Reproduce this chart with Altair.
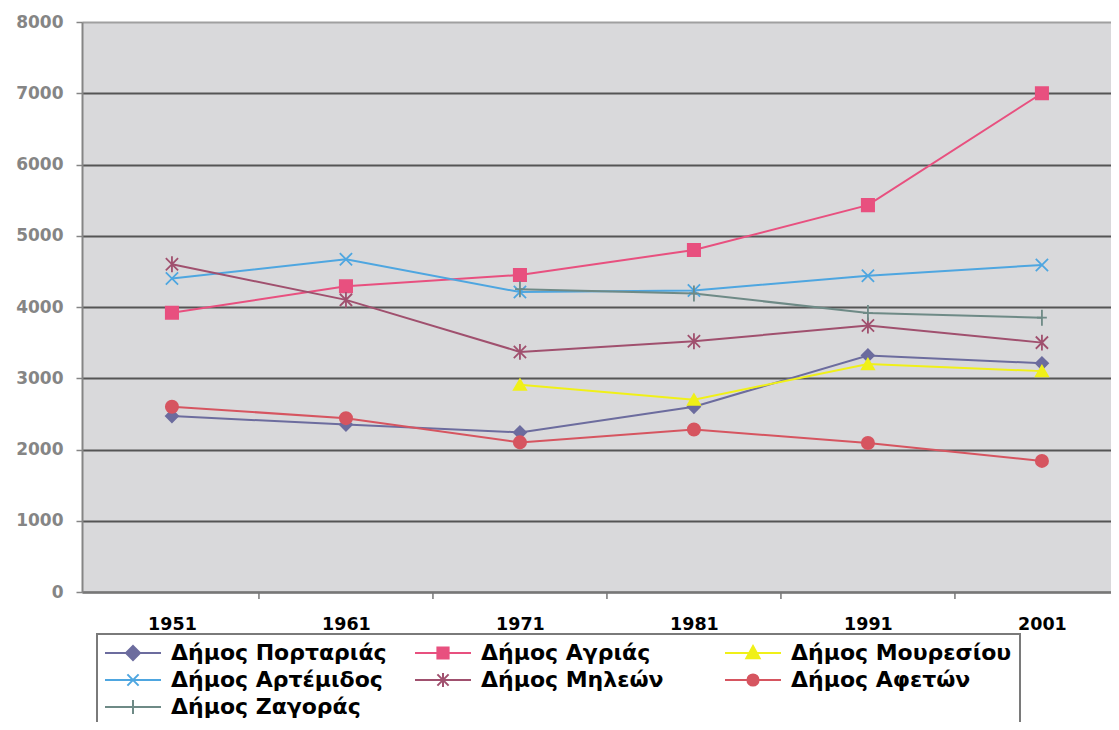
import altair as alt
import pandas as pd

years = [1951, 1961, 1971, 1981, 1991, 2001]
series_names = ["Δήμος Πορταριάς", "Δήμος Αγριάς", "Δήμος Μουρεσίου",
                "Δήμος Αρτέμιδος", "Δήμος Μηλεών", "Δήμος Αφετών", "Δήμος Ζαγοράς"]
portarias = [2470, 2350, 2240, 2600, 3320, 3210]
agrias = [3920, 4290, 4450, 4800, 5430, 7000]
mouresiou = [None, None, 2910, 2700, 3200, 3100]
artemidos = [4400, 4670, 4210, 4230, 4440, 4590]
mileon = [4600, 4100, 3370, 3520, 3740, 3500]
afeton = [2600, 2440, 2100, 2280, 2090, 1840]
zagoras = [None, None, 4250, 4190, 3915, 3850]
boundary_years = [1956, 1966, 1976, 1986, 1996]
y_ticks = [0, 1000, 2000, 3000, 4000, 5000, 6000, 7000, 8000]

all_values = [portarias, agrias, mouresiou, artemidos, mileon, afeton, zagoras]
rows = []
for name, vals in zip(series_names, all_values):
    for yr, v in zip(years, vals):
        if v is not None:
            rows.append({"series": name, "year": yr, "value": v})
df = pd.DataFrame(rows)
bdf = pd.DataFrame({"year": boundary_years})

colors = ["#6c6c9e", "#e8507f", "#f0f018", "#4ea6e0", "#a0506e", "#d65560", "#6e8a86"]
plot_shapes = [
    "diamond", "square", "triangle-up",
    "M-1,-1L1,1M-1,1L1,-1",
    "M-1,-1L1,1M-1,1L1,-1M0,-1.3V1.3",
    "circle",
    "M-0.8,0H0.8M0,-1.3V1.3",
]
legend_paths = [
    "M-4,0L4,0M0,-1L1,0L0,1L-1,0Z",
    "M-4,0L4,0M-0.8,-0.8L0.8,-0.8L0.8,0.8L-0.8,0.8Z",
    "M-4,0L4,0M0,-1L0.95,0.75L-0.95,0.75Z",
    "M-4,0L4,0M-0.8,-0.8L0.8,0.8M-0.8,0.8L0.8,-0.8",
    "M-4,0L4,0M-0.8,-0.8L0.8,0.8M-0.8,0.8L0.8,-0.8M0,-1L0,1",
    "M-4,0L4,0M-0.8,0A0.8,0.8,0,1,1,0.8,0A0.8,0.8,0,1,1,-0.8,0Z",
    "M-4,0L4,0M0,-1L0,1",
]
expr = "'circle'"
for n, p in reversed(list(zip(series_names, legend_paths))):
    expr = f"datum.value === '{n}' ? '{p}' : ({expr})"

FONT = "DejaVu Sans"

legend = alt.Legend(
    title=None, orient="none", direction="horizontal", legendX=15, legendY=612, columns=3,
    values=series_names,
    gridAlign="all", columnPadding=19, rowPadding=5, padding=8,
    strokeColor="#7a7a7a", fillColor="white",
    labelFont=FONT, labelFontSize=22, labelFontWeight="bold", labelColor="black",
    labelLimit=400, symbolSize=196, symbolStrokeWidth=2, symbolOffset=17,
    labelOffset=27, symbolType={"expr": expr},
)

xscale = alt.Scale(domain=[1945.83, 2004.97], nice=False, zero=False)
yscale = alt.Scale(domain=[0, 8000], nice=False)
cscale = alt.Scale(domain=series_names, range=colors)
sscale = alt.Scale(domain=series_names, range=colors)

x_enc = alt.X("year:Q", scale=xscale, axis=alt.Axis(
    values=years, format="d", ticks=False, grid=False, title=None,
    labelFont=FONT, labelFontSize=17.5, labelFontWeight="bold", labelColor="black",
    labelPadding=23, domainColor="#777777", domainWidth=2))
y_enc = alt.Y("value:Q", scale=yscale, axis=alt.Axis(
    values=y_ticks, format="d", title=None, labelFont=FONT, labelFontSize=17,
    labelFontWeight="bold", labelColor="#858585", labelPadding=13,
    tickColor="#858585", tickSize=6, tickWidth=1.5,
    domainColor="#858585", domainWidth=2,
    gridColor={"condition": {"test": "datum.value === 8000", "value": "#a0a0a0"},
               "value": "#555555"},
    gridWidth=2))

lines = alt.Chart(df).mark_line(strokeWidth=2).encode(
    x=x_enc, y=y_enc,
    color=alt.Color("series:N", scale=cscale, legend=legend),
    detail="series:N",
)
point_layers = []
for name, shp in zip(series_names, plot_shapes):
    point_layers.append(
        alt.Chart(df).transform_filter(alt.datum.series == name)
        .mark_point(shape=shp, filled=True, size=150, strokeWidth=1.8, opacity=1)
        .encode(
            x=x_enc, y=y_enc,
            color=alt.Color("series:N", scale=cscale, legend=legend),
            stroke=alt.Stroke("series:N", scale=sscale, legend=legend),
        )
    )
ticks = alt.Chart(bdf).mark_rule(color="#777777", strokeWidth=1.5).encode(
    x=alt.X("year:Q", scale=xscale),
    y=alt.value(570), y2=alt.value(577),
)

chart = alt.layer(lines, *point_layers, ticks).properties(
    width=1029, height=570,
    autosize=alt.AutoSizeParams(type="none"),
    padding={"left": 74, "top": 14, "right": 0, "bottom": 130},
).configure_view(
    fill="#d9d9db", stroke=None,
).configure_legend(strokeWidth=2)

chart.save("out.html", embed_options={"renderer": "svg", "actions": False})
